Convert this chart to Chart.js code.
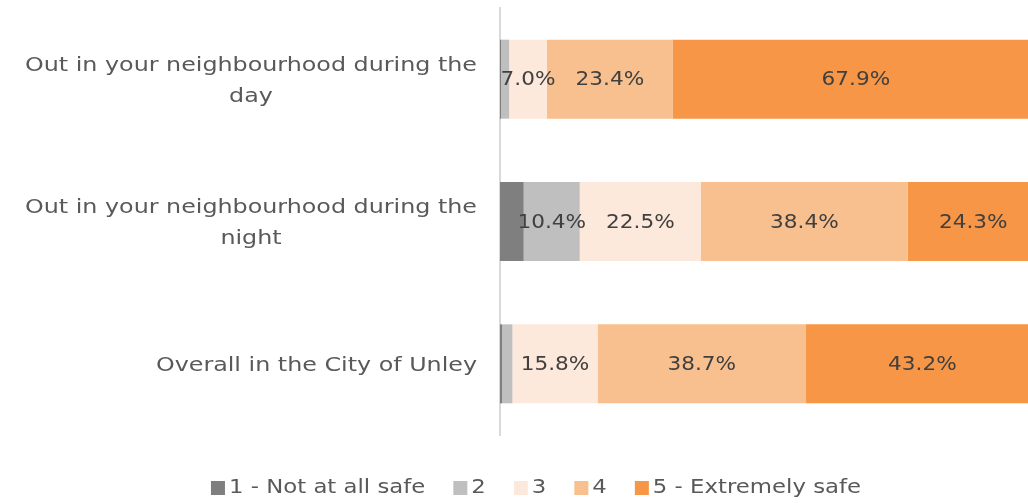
<!DOCTYPE html>
<html lang="en">
<head>
  <meta charset="UTF-8" />
  <title>Feeling of safety</title>
  <script src="https://cdn.jsdelivr.net/npm/chart.js"></script>
  <style>
    html, body { margin: 0; padding: 0; background: #ffffff; }
    #wrap { width: 1028px; height: 503px; position: relative; }
  </style>
</head>
<body>
  <div id="wrap"><canvas id="safetyChart"></canvas></div>

  <script>
    // categories (one row each), each label split into its lines
    const categories = [
      ['Out in your neighbourhood during the', 'day'],
      ['Out in your neighbourhood during the', 'night'],
      ['Overall in the City of Unley']
    ];

    const seriesNames = ['1 - Not at all safe', '2', '3', '4', '5 - Extremely safe'];
    const seriesColors = ['#7f7f7f', '#bfbfbf', '#fde9db', '#f9c08f', '#f79646'];

    // percentages per row
    const notSafe   = [0.2, 4.4, 0.4];
    const rating2   = [1.5, 10.4, 1.9];
    const rating3   = [7.0, 22.5, 15.8];
    const rating4   = [23.4, 38.4, 38.7];
    const extremely = [67.9, 24.3, 43.2];

    // the original picture is cut off on the right, a bit before 100%
    const xMax = 98;

    const FONT = "'DejaVu Sans', sans-serif";
    const TEXT_GREY = '#595959';

    const seriesData = [notSafe, rating2, rating3, rating4, extremely];

    // the original font is much wider than DejaVu, so stretch text horizontally
    function wideText(ctx, text, x, y, sx, align) {
      const w = ctx.measureText(text).width * sx;
      let left = x;
      if (align === 'center') left = x - w / 2;
      else if (align === 'right') left = x - w;
      ctx.save();
      ctx.translate(left, y);
      ctx.scale(sx, 1);
      ctx.textAlign = 'left';
      ctx.fillText(text, 0, 0);
      ctx.restore();
      return w;
    }

    // value labels inside the bars (small segments have none)
    const valueLabels = {
      id: 'valueLabels',
      afterDatasetsDraw(chart) {
        const ctx = chart.ctx;
        ctx.save();
        ctx.font = '20px ' + FONT;
        ctx.fillStyle = '#404040';
        ctx.textBaseline = 'middle';
        chart.data.datasets.forEach((ds, i) => {
          const meta = chart.getDatasetMeta(i);
          meta.data.forEach((bar, j) => {
            const v = ds.data[j];
            if (v < 5) return;
            const p = bar.getProps(['x', 'y', 'base'], true);
            wideText(ctx, v.toFixed(1) + '%', (p.x + p.base) / 2, p.y + 1, 1.08, 'center');
          });
        });
        ctx.restore();
      }
    };

    // category labels: lines centred on each other, block right-aligned to the axis
    const categoryLabels = {
      id: 'categoryLabels',
      afterDraw(chart) {
        const ctx = chart.ctx;
        const yScale = chart.scales.y;
        const rightEdge = chart.chartArea.left - 23;
        const lineH = 31;
        const sx = 1.19;
        ctx.save();
        ctx.font = '20px ' + FONT;
        ctx.fillStyle = TEXT_GREY;
        ctx.textBaseline = 'middle';
        categories.forEach((lines, i) => {
          const yMid = yScale.getPixelForValue(i) + 2;
          const w = Math.max(...lines.map(l => ctx.measureText(l).width)) * sx;
          const cx = rightEdge - w / 2;
          const top = yMid - (lines.length - 1) * lineH / 2;
          lines.forEach((l, k) => wideText(ctx, l, cx, top + k * lineH, sx, 'center'));
        });
        ctx.restore();
      }
    };

    // legend drawn by hand so the box/text gaps match
    const bottomLegend = {
      id: 'bottomLegend',
      afterDraw(chart) {
        const ctx = chart.ctx;
        const sx = 1.14, box = 14, gap = 4, itemGap = 28, centerX = 536, y = 488;
        ctx.save();
        ctx.font = '20px ' + FONT;
        ctx.textBaseline = 'middle';
        const widths = seriesNames.map(n => box + gap + ctx.measureText(n).width * sx);
        const total = widths.reduce((a, b) => a + b, 0) + itemGap * (widths.length - 1);
        let x = centerX - total / 2;
        seriesNames.forEach((n, i) => {
          ctx.fillStyle = seriesColors[i];
          ctx.fillRect(x, y - box / 2, box, box);
          ctx.fillStyle = TEXT_GREY;
          wideText(ctx, n, x + box + gap, y, sx, 'left');
          x += widths[i] + itemGap;
        });
        ctx.restore();
      }
    };

    const ctx = document.getElementById('safetyChart').getContext('2d');
    new Chart(ctx, {
      type: 'bar',
      data: {
        labels: categories.map(c => c.join(' ')),
        datasets: seriesNames.map((name, i) => ({
          label: name,
          data: seriesData[i],
          backgroundColor: seriesColors[i],
          borderWidth: 0,
          barPercentage: 1,
          categoryPercentage: 0.555
        }))
      },
      options: {
        indexAxis: 'y',
        responsive: true,
        maintainAspectRatio: false,
        animation: false,
        layout: { padding: { top: 8, right: 0, left: 0, bottom: 68 } },
        plugins: {
          legend: { display: false },
          tooltip: { enabled: false }
        },
        scales: {
          x: {
            stacked: true,
            min: 0,
            max: xMax,
            display: false
          },
          y: {
            stacked: true,
            grid: { display: false },
            border: { display: true, color: '#d9d9d9', width: 2 },
            ticks: { display: false },
            afterFit(scale) { scale.width = 500; }
          }
        }
      },
      plugins: [valueLabels, categoryLabels, bottomLegend]
    });
  </script>
</body>
</html>
